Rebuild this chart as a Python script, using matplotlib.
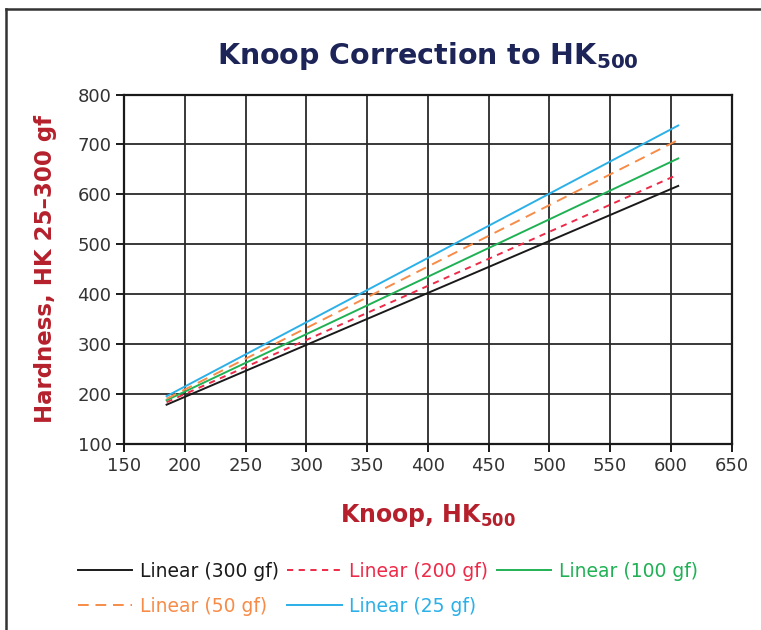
import matplotlib.pyplot as plt
from matplotlib.lines import Line2D

# trendline end points (Knoop HK500 vs. hardness at lower loads)
knoop = [185, 606]
hk_300 = [179, 617]
hk_200 = [184, 640]
hk_100 = [188, 672]
hk_50 = [191, 709]
hk_25 = [196, 738]

series = [
    ("Linear (300 gf)", hk_300, "#1a1a1a", "-"),
    ("Linear (200 gf)", hk_200, "#ee2a48", (0, (3.2, 2.8))),
    ("Linear (100 gf)", hk_100, "#20b155", "-"),
    ("Linear (50 gf)", hk_50, "#f78c48", (0, (5.5, 3.5))),
    ("Linear (25 gf)", hk_25, "#2bb0e8", "-"),
]

navy = "#1c2458"
dark_red = "#b5202c"

fig = plt.figure(figsize=(7.61, 6.30), dpi=100)
ax = fig.add_axes([0.163, 0.295, 0.7985, 0.555])

lines = {}
for label, vals, color, ls in series:
    ln, = ax.plot(knoop, vals, color=color, linestyle=ls, linewidth=1.4,
                  label=label, zorder=3)
    lines[label] = ln

ax.set_xlim(150, 650)
ax.set_ylim(100, 800)
ax.set_xticks(range(150, 651, 50))
ax.set_yticks(range(100, 801, 100))
ax.grid(True, color="#2a2a2a", linewidth=1.3)
for side in ax.spines.values():
    side.set_color("#1a1a1a")
    side.set_linewidth(1.6)
ax.tick_params(direction="out", length=6, width=1.4, color="#1a1a1a",
               labelsize=13, labelcolor="#333333", pad=3)

ax.set_title("Knoop Correction to HK$_\\mathbf{500}$", fontsize=20.5,
             fontweight="bold", color=navy, pad=22)
ax.set_xlabel("Knoop, HK$_\\mathbf{500}$", fontsize=17, fontweight="bold",
              color=dark_red, labelpad=20)
ax.set_ylabel("Hardness, HK 25\u2013300 gf", fontsize=16.5, fontweight="bold",
              color=dark_red, labelpad=15)

# column-major order so the rows read 300/200/100 then 50/25
order = ["Linear (300 gf)", "Linear (50 gf)", "Linear (200 gf)",
         "Linear (25 gf)", "Linear (100 gf)"]
fig.legend([lines[k] for k in order], order, ncol=3, loc="upper left",
           bbox_to_anchor=(0.1025, 0.108), frameon=False, borderpad=0,
           borderaxespad=0, fontsize=13.5, handlelength=2.9,
           handletextpad=0.4, columnspacing=0.45, labelspacing=0.85,
           labelcolor="linecolor")

# page frame (left and top edges)
fig.add_artist(Line2D([6 / 761, 6 / 761], [0, 1 - 9 / 630], color="#333333",
                      linewidth=1.8))
fig.add_artist(Line2D([6 / 761, 1], [1 - 9 / 630, 1 - 9 / 630],
                      color="#333333", linewidth=1.8))

fig.savefig("out.png", dpi=100)
